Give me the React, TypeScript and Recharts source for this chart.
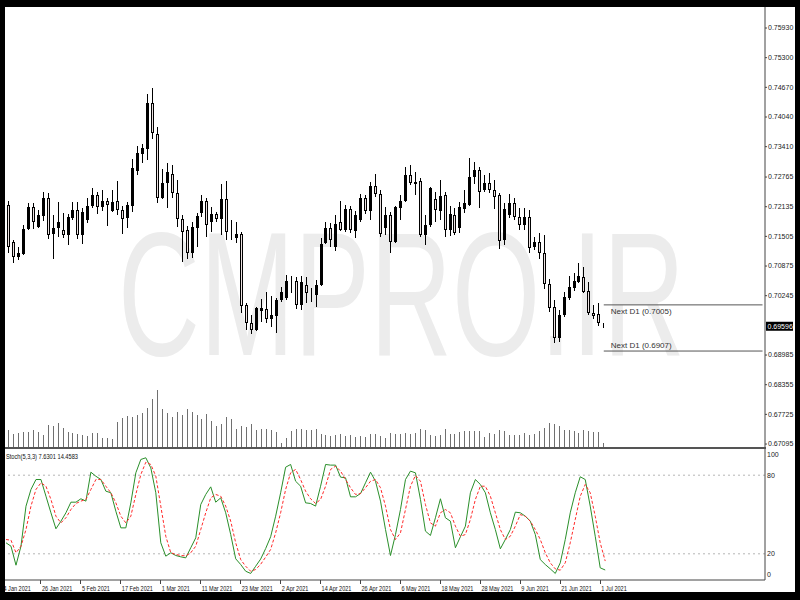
import React from "react";
import { ComposedChart, Bar, Line, XAxis, YAxis, ReferenceLine } from "recharts";

// daily candles, first visible bar on the left edge up to the current bar
const OPEN = [
  0.7217, 0.7138, 0.7106, 0.7112, 0.7166, 0.7212, 0.7171, 0.7194, 0.7233, 0.7155,
  0.7168, 0.7164, 0.7153, 0.7189, 0.7206, 0.7153, 0.7185, 0.7215, 0.7238, 0.7213,
  0.7226, 0.7205, 0.7226, 0.7206, 0.7189, 0.7215, 0.729, 0.7325, 0.7335, 0.7434,
  0.7368, 0.7233, 0.7263, 0.7284, 0.7243, 0.7187, 0.7164, 0.7116, 0.7168, 0.7201,
  0.7226, 0.7182, 0.7198, 0.7187, 0.723, 0.7164, 0.7146, 0.7155, 0.7005, 0.6966,
  0.6952, 0.6993, 0.6996, 0.6976, 0.6981, 0.7015, 0.7019, 0.7056, 0.7056, 0.7005,
  0.7047, 0.7027, 0.7026, 0.7047, 0.7136, 0.7168, 0.7127, 0.7182, 0.7164, 0.7208,
  0.7162, 0.7185, 0.7233, 0.7205, 0.7257, 0.724, 0.7168, 0.7196, 0.7139, 0.721,
  0.7226, 0.7281, 0.7262, 0.7269, 0.7153, 0.7175, 0.7229, 0.7205, 0.7238, 0.7164,
  0.7196, 0.7168, 0.7208, 0.7217, 0.7277, 0.7291, 0.7249, 0.7264, 0.725, 0.7238,
  0.7143, 0.7196, 0.7221, 0.7192, 0.7175, 0.7192, 0.7128, 0.7139, 0.7116, 0.7049,
  0.7, 0.6934, 0.6983, 0.7019, 0.704, 0.7054, 0.7065, 0.7035, 0.6988, 0.6985,
  0.6961,
];
const HIGH = [
  0.7226, 0.7143, 0.7128, 0.7175, 0.7221, 0.7222, 0.7206, 0.7245, 0.7242, 0.7196,
  0.7224, 0.7201, 0.7199, 0.7224, 0.7224, 0.721, 0.7231, 0.7253, 0.7245, 0.725,
  0.7233, 0.7249, 0.7269, 0.7215, 0.7224, 0.7314, 0.7342, 0.7347, 0.7453, 0.7465,
  0.7382, 0.7293, 0.7306, 0.7302, 0.727, 0.7196, 0.7172, 0.718, 0.7201, 0.7238,
  0.7233, 0.7213, 0.7203, 0.7262, 0.7269, 0.7185, 0.718, 0.716, 0.701, 0.6983,
  0.7001, 0.7017, 0.7033, 0.7024, 0.7019, 0.7044, 0.7068, 0.7066, 0.7065, 0.7066,
  0.7064, 0.704, 0.7058, 0.7148, 0.718, 0.7178, 0.7196, 0.7226, 0.7217, 0.7215,
  0.7205, 0.724, 0.7238, 0.7267, 0.7284, 0.7249, 0.7213, 0.7203, 0.7215, 0.7238,
  0.7297, 0.7302, 0.7288, 0.7274, 0.7196, 0.7255, 0.7245, 0.727, 0.7245, 0.7215,
  0.721, 0.7224, 0.7249, 0.7316, 0.7309, 0.7297, 0.7281, 0.7286, 0.727, 0.7242,
  0.7221, 0.724, 0.7231, 0.721, 0.721, 0.7206, 0.715, 0.7158, 0.7153, 0.7059,
  0.7015, 0.6994, 0.7033, 0.7066, 0.7072, 0.7094, 0.7086, 0.7054, 0.7005, 0.701,
  0.6966,
];
const LOW = [
  0.7116, 0.7094, 0.71, 0.7111, 0.7164, 0.7166, 0.7168, 0.7184, 0.7144, 0.7102,
  0.715, 0.7148, 0.7132, 0.7185, 0.7144, 0.7134, 0.7178, 0.721, 0.7198, 0.7205,
  0.7173, 0.7203, 0.7196, 0.7155, 0.7168, 0.7203, 0.7281, 0.7307, 0.7313, 0.7357,
  0.7221, 0.7229, 0.721, 0.7233, 0.7171, 0.7097, 0.7102, 0.7104, 0.7128, 0.7191,
  0.715, 0.716, 0.7182, 0.7153, 0.7143, 0.7143, 0.7136, 0.6987, 0.6952, 0.6943,
  0.695, 0.6969, 0.6967, 0.6959, 0.6945, 0.7012, 0.7015, 0.703, 0.6996, 0.6994,
  0.701, 0.7012, 0.7001, 0.7045, 0.7134, 0.7128, 0.712, 0.7162, 0.716, 0.7158,
  0.7146, 0.7181, 0.7199, 0.7185, 0.7235, 0.715, 0.7153, 0.7115, 0.7136, 0.7185,
  0.7224, 0.726, 0.7238, 0.715, 0.7132, 0.7171, 0.718, 0.7185, 0.715, 0.7151,
  0.7153, 0.7157, 0.7201, 0.7215, 0.7262, 0.721, 0.7245, 0.7242, 0.7208, 0.7123,
  0.7132, 0.7189, 0.7185, 0.7165, 0.7165, 0.7115, 0.7122, 0.7102, 0.7038, 0.699,
  0.6923, 0.6927, 0.6979, 0.7015, 0.7035, 0.7051, 0.703, 0.6983, 0.6974, 0.696,
  0.6956,
];
const CLOSE = [
  0.7128, 0.7106, 0.7116, 0.7166, 0.7212, 0.718, 0.7196, 0.7233, 0.7153, 0.7168,
  0.718, 0.7153, 0.7191, 0.7206, 0.7153, 0.7202, 0.7216, 0.7238, 0.7213, 0.7226,
  0.7217, 0.7224, 0.7206, 0.7187, 0.7217, 0.7295, 0.7327, 0.7338, 0.7434, 0.7371,
  0.7231, 0.7263, 0.7288, 0.7243, 0.7187, 0.716, 0.7116, 0.7171, 0.7194, 0.7226,
  0.7175, 0.7197, 0.7187, 0.723, 0.716, 0.7162, 0.7155, 0.7003, 0.6966, 0.6952,
  0.6998, 0.6998, 0.6976, 0.6983, 0.7015, 0.7032, 0.7056, 0.7053, 0.7005, 0.7054,
  0.7031, 0.7024, 0.7047, 0.7134, 0.7168, 0.7143, 0.7177, 0.7164, 0.7208, 0.7164,
  0.7196, 0.7233, 0.7205, 0.7257, 0.724, 0.7155, 0.7196, 0.7139, 0.7213, 0.7226,
  0.7281, 0.7263, 0.7267, 0.7153, 0.7175, 0.7253, 0.7206, 0.7236, 0.7165, 0.7199,
  0.7158, 0.7213, 0.7221, 0.7277, 0.7291, 0.7245, 0.7263, 0.725, 0.7235, 0.7141,
  0.7208, 0.7221, 0.7191, 0.7175, 0.7192, 0.7125, 0.7139, 0.7116, 0.7049, 0.6998,
  0.6935, 0.6983, 0.7022, 0.7044, 0.7056, 0.7066, 0.7033, 0.6988, 0.6981, 0.6966,
  0.69596,
];
// tick volume
const VOLUME = [
  167, 127, 144, 150, 150, 167, 150, 117, 224, 207,
  240, 194, 150, 144, 134, 124, 107, 144, 144, 94,
  90, 80, 250, 294, 307, 297, 324, 340, 394, 477,
  574, 384, 340, 297, 350, 317, 384, 350, 317, 284,
  330, 260, 214, 230, 300, 284, 184, 210, 204, 227,
  167, 184, 184, 167, 150, 40, 94, 160, 184, 180,
  174, 174, 184, 127, 117, 107, 124, 134, 107, 124,
  100, 107, 100, 127, 134, 114, 94, 140, 127, 134,
  140, 127, 140, 177, 167, 117, 110, 117, 184, 127,
  134, 150, 160, 160, 157, 160, 100, 140, 134, 167,
  157, 117, 117, 117, 140, 117, 127, 160, 190, 240,
  227, 210, 167, 167, 160, 144, 167, 160, 150, 150,
  44,
];
// Stoch(5,3,3): main and signal
const STOCH_K = [
  28.4, 25.8, 11.3, 25.8, 56.3, 69.1, 76.7, 76.7, 64, 51.3,
  39.1, 44.9, 51.3, 59.4, 59.4, 62, 60.2, 82.3, 79.2, 76.7,
  67.8, 66.6, 52.5, 39.8, 39.8, 58.9, 81.8, 92, 93.3, 85.6,
  66.6, 28.4, 18.2, 20.8, 18.7, 17.7, 16.9, 24.6, 32.2, 57.6,
  65.3, 71.1, 59.4, 62.7, 51.3, 34.7, 16.2, 11.8, 6.7, 5,
  10.5, 16, 24, 33, 48.7, 66.6, 86.1, 88.2, 75.4, 71.6,
  58.9, 58.4, 56.4, 71.6, 88.2, 87.7, 87.7, 78.5, 78, 63.5,
  63.5, 66, 74.2, 82.3, 75.4, 60.2, 38.5, 18.7, 34.7, 53.8,
  76.7, 83.1, 81.8, 61.5, 37.3, 34, 47.5, 62, 47.5, 44.9,
  24.6, 33, 41.1, 66.6, 76.7, 72.9, 66.6, 51.3, 38.5, 23.8,
  30.9, 38.5, 51.8, 51.3, 48.7, 44.9, 34.7, 15.6, 11.8, 8.5,
  5, 13.1, 30.9, 51.3, 66.6, 78.8, 76.7, 56.4, 33.4, 9.3,
  7.6301,
];
const STOCH_D = [
  30.9, 30.4, 20.8, 25.8, 38.5, 56.4, 69.1, 74.2, 71.6, 61.5,
  48.7, 43.6, 47.5, 53.8, 58.4, 60.2, 61.5, 69.1, 76.7, 76.7,
  71.6, 66.6, 58.9, 48.7, 43.6, 48.7, 65.3, 80.5, 89.9, 88.2,
  79.3, 56.4, 33.4, 20.8, 19.5, 18.7, 18.4, 20.8, 25.8, 38.5,
  51.3, 62.7, 65.3, 64, 56.4, 44.9, 28.4, 15.6, 10.5, 6.7,
  8, 12, 17.5, 23.3, 36, 51.3, 69.1, 81.8, 84.4, 76.7,
  67.8, 62, 58.4, 61.5, 71.6, 84.4, 86.9, 83.1, 76.7, 70.4,
  65.3, 66, 70.4, 75.4, 76.7, 70.4, 56.4, 38.5, 30.9, 36,
  53.8, 71.6, 79.8, 75.4, 57.6, 43.6, 41.1, 51.3, 53.8, 51.3,
  41.1, 33.4, 34.7, 46.2, 61.5, 71.6, 71.6, 64, 51.3, 38.5,
  30.9, 33.4, 41.1, 49.9, 48.7, 44.9, 38.5, 30.9, 20.8, 13.1,
  8.5, 7.5, 13.1, 28.4, 46.2, 63.9, 72.9, 66.6, 48.7, 28.4,
  14.4583,
];

const EMPTY_SLOTS = 32; // chart shift: free bars right of the current one

const PRICE_DOMAIN = [0.67032, 0.76376];
const PRICE_TICKS = [
  0.7593, 0.753, 0.7467, 0.7404, 0.7341, 0.72765, 0.72135, 0.71505,
  0.70875, 0.70245, 0.68985, 0.68355, 0.67725, 0.67095,
];
const LAST_PRICE = 0.69596;
const NEXT_D1 = [0.7005, 0.6907];

const STOCH_TICKS = [0, 20, 80, 100];
const STOCH_LEVELS = [20, 80];
const STOCH_TITLE = "Stoch(5,3,3) 7.6301 14.4583";

const DATE_TICK_IDX = [0, 7, 15, 23, 31, 39, 47, 55, 63, 71, 79, 87, 95, 103, 111, 119];
const DATE_TICK_LABELS = [
  "4 Jan 2021", "26 Jan 2021", "5 Feb 2021", "17 Feb 2021", "1 Mar 2021", "11 Mar 2021",
  "23 Mar 2021", "2 Apr 2021", "14 Apr 2021", "26 Apr 2021", "6 May 2021", "18 May 2021",
  "28 May 2021", "9 Jun 2021", "21 Jun 2021", "1 Jul 2021",
];

const FONT = "'Liberation Sans', Arial, sans-serif";
const AXIS = "#444";
const STOCH_PLOT_H = 131;

type Row = { i: number; o?: number; h?: number; l?: number; c?: number; v?: number; k?: number; d?: number };

function buildRows(): Row[] {
  const rows: Row[] = [];
  for (let i = 0; i < OPEN.length + EMPTY_SLOTS; i++) {
    if (i < OPEN.length) {
      rows.push({ i, o: OPEN[i], h: HIGH[i], l: LOW[i], c: CLOSE[i], v: VOLUME[i], k: STOCH_K[i], d: STOCH_D[i] });
    } else {
      rows.push({ i });
    }
  }
  return rows;
}

function Candle(props: any) {
  const { x, y, width, height, payload } = props;
  if (!payload || payload.o == null || y == null || isNaN(y)) return null;
  const top = Math.min(y, y + height);
  const bot = Math.max(y, y + height);
  const { o, h, l, c } = payload;
  const span = h - l || 1e-9;
  const py = (p: number) => top + ((h - p) / span) * (bot - top);
  const cx = Math.floor(x + width / 2) + 0.5;
  const bt = Math.round(py(Math.max(o, c)));
  const bb = Math.round(py(Math.min(o, c)));
  const bull = c >= o;
  return (
    <g shapeRendering="crispEdges">
      <line x1={cx} x2={cx} y1={top} y2={bot} stroke="#000" />
      {bull ? (
        <rect x={cx - 1.5} y={bt} width={3} height={Math.max(1, bb - bt)} fill="#000" />
      ) : (
        <rect x={cx - 1} y={bt + 0.5} width={2} height={Math.max(0, bb - bt - 1)} fill="#ece2e2" stroke="#000" />
      )}
    </g>
  );
}

function VolumeStick(props: any) {
  const { x, y, width, height, payload } = props;
  if (!payload || payload.v == null || y == null || isNaN(y)) return null;
  const cx = Math.floor(x + width / 2) + 0.5;
  return <line x1={cx} x2={cx} y1={y} y2={y + height} stroke="#707070" shapeRendering="crispEdges" />;
}

function PriceTick({ x, y, payload }: any) {
  return (
    <g>
      <line x1={x} x2={x + 2} y1={y} y2={y} stroke={AXIS} />
      <text x={x + 3} y={y} dy="0.35em" fontSize={7} fill="#222" fontFamily={FONT}>
        {Number(payload.value).toFixed(5)}
      </text>
    </g>
  );
}

function StochTick({ x, y, payload }: any) {
  const cy = Math.min(Math.max(y, 6), STOCH_PLOT_H - 5.5);
  return (
    <text x={x + 2} y={cy} dy="0.35em" fontSize={7} fill="#222" fontFamily={FONT}>
      {payload.value}
    </text>
  );
}

function DateTick({ x, y, payload }: any) {
  const n = DATE_TICK_IDX.indexOf(payload.value);
  if (n < 0) return null;
  const tx = n === 0 ? x - 2.5 : x + 1;
  return (
    <g>
      {n > 0 && <line x1={x} x2={x} y1={y} y2={y + 4} stroke={AXIS} shapeRendering="crispEdges" />}
      <text transform={`translate(${tx} ${y + 10.5}) scale(0.74 1)`} fontSize={7.5} fill="#111" fontFamily={FONT}>
        {DATE_TICK_LABELS[n]}
      </text>
    </g>
  );
}

function NextLabel({ viewBox, text, below }: any) {
  if (!viewBox) return null;
  return (
    <text x={viewBox.x + 7} y={below ? viewBox.y + 9 : viewBox.y - 3.5} fontSize={8} fill="#333" fontFamily={FONT}>
      {text}
    </text>
  );
}

function PriceBox({ viewBox, value }: any) {
  if (!viewBox) return null;
  const bx = viewBox.x + viewBox.width + 1;
  return (
    <g>
      <rect x={bx} y={viewBox.y - 4.5} width={27} height={9} fill="#000" />
      <text x={bx + 1.5} y={viewBox.y} dy="0.35em" fontSize={7} fill="#fff" fontFamily={FONT}>
        {value.toFixed(5)}
      </text>
    </g>
  );
}

export default function App() {
  const rows = buildRows();
  const last = OPEN.length - 1;
  const end = rows.length - 1;
  const xPad = { left: 1, right: 0 };

  return (
    <div style={{ position: "fixed", left: 0, top: 0, width: 800, height: 600, background: "#000", overflow: "hidden" }}>
      <div style={{ position: "absolute", left: 5, top: 7, width: 790, height: 585, background: "#fff" }} />

      {/* watermark */}
      <svg width={800} height={600} style={{ position: "absolute", left: 0, top: 0 }}>
        <text x={118} y={355} fontSize={177} textLength={567} lengthAdjust="spacingAndGlyphs" fill="#ececec" fontFamily={FONT}>
          CMPRO.IR
        </text>
      </svg>

      {/* volumes */}
      <div style={{ position: "absolute", left: 5, top: 7 }}>
        <ComposedChart width={790} height={440} data={rows} margin={{ top: 0, right: 30, bottom: 0, left: 0 }}>
          <XAxis dataKey="i" hide padding={xPad} />
          <YAxis hide domain={[0, 4400]} />
          <Bar dataKey="v" isAnimationActive={false} shape={(p: any) => <VolumeStick {...p} />} />
        </ComposedChart>
      </div>

      {/* candles */}
      <div style={{ position: "absolute", left: 5, top: 7 }}>
        <ComposedChart width={790} height={440} data={rows} margin={{ top: 0, right: 0, bottom: 0, left: 0 }}>
          <XAxis dataKey="i" hide padding={xPad} />
          <YAxis
            orientation="right"
            width={30}
            domain={PRICE_DOMAIN}
            ticks={PRICE_TICKS}
            interval={0}
            tickSize={0}
            tickMargin={0}
            tickLine={false}
            axisLine={{ stroke: AXIS }}
            tick={<PriceTick />}
            allowDataOverflow
          />
          <Bar
            dataKey={(r: Row) => (r.o == null ? null : [r.l, r.h])}
            isAnimationActive={false}
            shape={(p: any) => <Candle {...p} />}
          />
          {NEXT_D1.map((lvl, n) => (
            <ReferenceLine
              key={lvl}
              segment={[{ x: last, y: lvl }, { x: end, y: lvl }]}
              stroke="#555"
              label={<NextLabel text={`Next D1 (${lvl.toFixed(4)})`} below={n === 0} />}
            />
          ))}
          <ReferenceLine y={LAST_PRICE} stroke="none" label={<PriceBox value={LAST_PRICE} />} />
        </ComposedChart>
      </div>

      {/* panel separator */}
      <div style={{ position: "absolute", left: 5, top: 447, width: 761, height: 2, background: "#555" }} />

      {/* stochastic */}
      <div style={{ position: "absolute", left: 5, top: 449 }}>
        <ComposedChart width={790} height={STOCH_PLOT_H + 12} data={rows} margin={{ top: 0, right: 0, bottom: 0, left: 0 }}>
          <XAxis
            dataKey="i"
            padding={xPad}
            height={12}
            ticks={DATE_TICK_IDX}
            interval={0}
            tickSize={0}
            tickMargin={0}
            tickLine={false}
            axisLine={{ stroke: AXIS }}
            tick={<DateTick />}
          />
          <YAxis
            orientation="right"
            width={30}
            domain={[0, 100]}
            ticks={STOCH_TICKS}
            interval={0}
            tickSize={0}
            tickMargin={0}
            tickLine={false}
            axisLine={{ stroke: AXIS }}
            tick={<StochTick />}
          />
          {STOCH_LEVELS.map((lvl) => (
            <ReferenceLine key={lvl} y={lvl} stroke="#b5b5b5" strokeDasharray="2 3" />
          ))}
          <Line dataKey="k" stroke="#2a8f2a" strokeWidth={1} dot={false} isAnimationActive={false} />
          <Line dataKey="d" stroke="#ff2a2a" strokeWidth={1} strokeDasharray="3 2" dot={false} isAnimationActive={false} />
        </ComposedChart>
      </div>

      <svg width={800} height={600} style={{ position: "absolute", left: 0, top: 0, pointerEvents: "none" }}>
        <text x={6} y={459} fontSize={7} textLength={72} lengthAdjust="spacingAndGlyphs" fill="#111" fontFamily={FONT}>
          {STOCH_TITLE}
        </text>
      </svg>
    </div>
  );
}
